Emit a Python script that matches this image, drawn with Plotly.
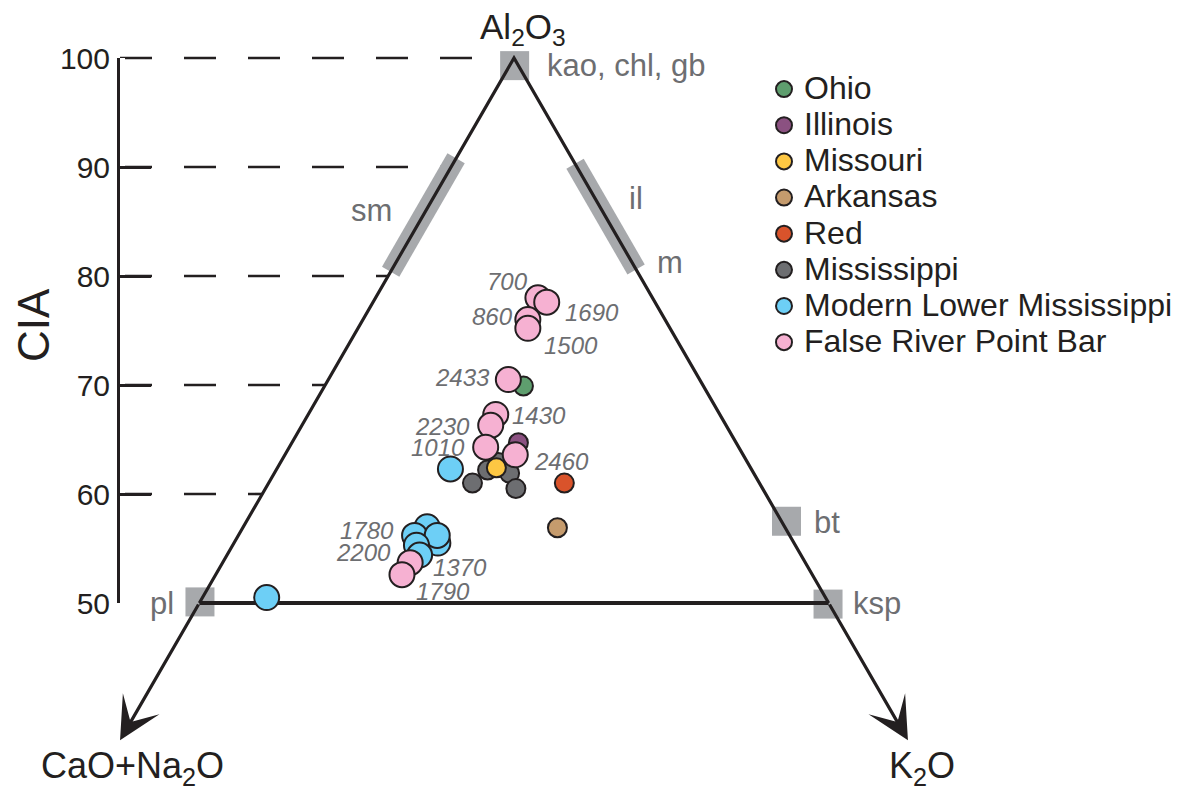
import numpy as np
import plotly.graph_objects as go

W, H = 1185, 794

# ---------------- data (A-CN-K molar %) ----------------
# A = Al2O3 (equals CIA on this diagram), K = K2O, CN = CaO+Na2O = 100 - A - K
ohio_A = [69.9]
ohio_K = [15.8]
illinois_A = [64.7]
illinois_K = [18.0]
missouri_A = [62.4]
missouri_K = [17.4]
arkansas_A = [56.9]
arkansas_K = [25.0]
red_A = [61.0]
red_K = [23.5]
mississippi_A = [61.0, 62.2, 62.9, 61.9, 60.5]
mississippi_K = [16.2, 16.8, 17.3, 18.7, 19.9]
modern_A = [62.3, 57.0, 56.2, 55.5, 56.2, 55.3, 54.4, 50.5]
modern_K = [13.8, 14.6, 14.0, 16.2, 15.8, 14.6, 15.3, 5.1]
falseriver_A = [78.0, 77.6, 76.0, 75.2, 70.5, 67.3, 66.3, 64.3, 63.6, 53.7, 52.6]
falseriver_K = [12.9, 13.8, 13.1, 13.5, 14.3, 14.9, 15.0, 15.6, 18.3, 14.9, 14.8]

# sample age labels and the False River point each one belongs to
age_labels = ["700", "1690", "860", "1500", "2433", "1430", "2230", "1010", "2460",
              "1780", "2200", "1370", "1790"]
age_point = [0, 1, 2, 3, 4, 5, 6, 7, 8, 9, 9, 9, 10]

# reference minerals
mineral_names = ["kao, chl, gb", "pl", "ksp", "bt"]
mineral_A = [99.3, 50.1, 49.9, 57.5]
mineral_K = [0.4, 0.0, 50.0, 42.9]
# clay-mineral bands along the edges (A range)
sm_A = [80.4, 90.8]        # on the A - CN edge (K = 0)
il_A = [80.6, 90.3]        # on the A - K edge (CN = 0)

cia_ticks = [50, 60, 70, 80, 90, 100]
dash_levels = [60, 70, 80, 90, 100]
arrow_A = 37.4             # where the CN and K arrows end

# ---------------- styles ----------------
INK = "#231f20"
GREY_TXT = "#6d6e71"
GREY_BOX = "#a7a9ac"
FONT = "Liberation Sans, Arial, Helvetica, sans-serif"
S3 = np.sqrt(3.0)

# px per unit and apex pixel position
SC = 10.9
APX, APY = 514.0, 58.0


def to_xy(A, K):
    A = np.asarray(A, dtype=float)
    K = np.asarray(K, dtype=float)
    return (2 * K + A - 100.0) / S3, A


def pp(px, py):
    return px / W, 1 - py / H


x_range = [(0 - APX) / SC, (W - APX) / SC]
y_range = [100 - (H - APY) / SC, 100 + APY / SC]
axis_x_px = 120.0
axis_x = (axis_x_px - APX) / SC

fig = go.Figure()

# dashed CIA guide lines
for lv in dash_levels:
    xl, _ = to_xy([lv], [0])
    fig.add_trace(go.Scatter(x=[axis_x, xl[0]], y=[lv, lv], mode="lines",
                             line=dict(color=INK, width=2.6, dash="32px,32px"),
                             showlegend=False, hoverinfo="skip"))

# clay bands
bx, by = to_xy(sm_A, [0, 0])
fig.add_trace(go.Scatter(x=bx, y=by, mode="lines", line=dict(color=GREY_BOX, width=20),
                         showlegend=False, hoverinfo="skip"))
ilK = [100 - a for a in il_A]
bx, by = to_xy(il_A, ilK)
fig.add_trace(go.Scatter(x=bx, y=by, mode="lines", line=dict(color=GREY_BOX, width=20),
                         showlegend=False, hoverinfo="skip"))

# mineral squares
mx, my = to_xy(mineral_A, mineral_K)
fig.add_trace(go.Scatter(x=mx, y=my, mode="markers",
                         marker=dict(symbol="square", size=29, color=GREY_BOX, line=dict(width=0)),
                         showlegend=False, hoverinfo="skip"))

# triangle
tx, ty = to_xy([50, 100, 50], [0, 0, 50])
fig.add_trace(go.Scatter(x=tx, y=ty, mode="lines", line=dict(color=INK, width=3.2),
                         showlegend=False, hoverinfo="skip"))
fig.add_trace(go.Scatter(x=[tx[0], tx[2]], y=[ty[0], ty[2]], mode="lines",
                         line=dict(color=INK, width=4), showlegend=False, hoverinfo="skip"))

# sample series: (name, A, K, colour, size, legend rank) in drawing order
series = [
    ("Mississippi", mississippi_A, mississippi_K, "#6d6e71", 19, 6),
    ("Missouri", missouri_A, missouri_K, "#fdc743", 19, 3),
    ("Illinois", illinois_A, illinois_K, "#8b5181", 19, 2),
    ("Ohio", ohio_A, ohio_K, "#5e9e6e", 19, 1),
    ("Arkansas", arkansas_A, arkansas_K, "#c59b6d", 19, 4),
    ("Red", red_A, red_K, "#d9532b", 19, 5),
    ("Modern Lower Mississippi", modern_A, modern_K, "#6dcff6", 25, 7),
    ("False River Point Bar", falseriver_A, falseriver_K, "#f6b1d2", 25, 8),
]
for name, A, K, col, sz, rk in series:
    x, y = to_xy(A, K)
    fig.add_trace(go.Scatter(x=x, y=y, mode="markers", legendrank=rk,
                             name='<span style="font-size:32px">' + name + '</span>',
                             marker=dict(size=sz, color=col, line=dict(color=INK, width=2)),
                             cliponaxis=False))

# invisible trace for the CIA axis subplot
fig.add_trace(go.Scatter(x=[0], y=[75], xaxis="x2", yaxis="y2", mode="markers",
                         marker=dict(opacity=0), showlegend=False, hoverinfo="skip"))

ann = []
# arrows to CN and K corners
for k_corner in (0, 50):
    cx, cy = to_xy([50], [k_corner])
    k_tip = 0 if k_corner == 0 else 100 - arrow_A
    ex, ey = to_xy([arrow_A], [k_tip])
    ann.append(dict(x=ex[0], y=ey[0], ax=cx[0], ay=cy[0], xref="x", yref="y",
                    axref="x", ayref="y", text="", showarrow=True, arrowhead=3,
                    arrowsize=2.2, arrowwidth=3.2, arrowcolor=INK, standoff=0))

# age labels
fx, fy = to_xy(falseriver_A, falseriver_K)
age_shift = [(-30, 16), (45, -10), (-35, 3), (43, -17), (-46, 2), (43, -1), (-48, -1),
             (-48, 0), (46, -7), (-43, 32), (-47, 10), (50, -5), (41, -17)]
for lab, idx, (dx, dy) in zip(age_labels, age_point, age_shift):
    ann.append(dict(x=fx[idx], y=fy[idx], xref="x", yref="y", text=lab, showarrow=False,
                    xshift=dx, yshift=dy,
                    font=dict(family=FONT, size=24, color=GREY_TXT, style="italic")))

# mineral labels (pixel placed)
mineral_lab = [("kao, chl, gb", 545, 66, "left"), ("pl", 162, 603, "center"),
               ("ksp", 851, 603, "left"), ("bt", 812, 522, "left"),
               ("sm", 371, 210, "center"), ("il", 636, 199, "center"), ("m", 670, 262, "center")]
for t, px, py, xa in mineral_lab:
    X, Y = pp(px, py)
    ann.append(dict(x=X, y=Y, xref="paper", yref="paper", text=t, showarrow=False,
                    xanchor=xa, yanchor="middle",
                    font=dict(family=FONT, size=31, color=GREY_TXT)))

# corner labels
corner_lab = [("Al<sub>2</sub>O<sub>3</sub>", 523, 29, 35), ("CaO+Na<sub>2</sub>O", 132, 768, 36),
              ("K<sub>2</sub>O", 922, 768, 36)]
for t, px, py, fs in corner_lab:
    X, Y = pp(px, py)
    ann.append(dict(x=X, y=Y, xref="paper", yref="paper", text=t, showarrow=False,
                    xanchor="center", yanchor="middle",
                    font=dict(family=FONT, size=fs, color=INK)))

# CIA axis title
X, Y = pp(33, 325)
ann.append(dict(x=X, y=Y, xref="paper", yref="paper", text="CIA", showarrow=False,
                textangle=-90, xanchor="center", yanchor="middle",
                font=dict(family=FONT, size=44, color=INK)))

y2_dom = [1 - (APY + 50 * SC) / H, 1 - APY / H]

fig.update_layout(
    template="none",
    width=W, height=H,
    margin=dict(l=0, r=0, t=0, b=0, pad=0, autoexpand=False),
    paper_bgcolor="white", plot_bgcolor="white",
    font=dict(family=FONT, color=INK),
    xaxis=dict(range=x_range, visible=False, domain=[0, 1], automargin=False, fixedrange=True),
    yaxis=dict(range=y_range, visible=False, domain=[0, 1], automargin=False, fixedrange=True),
    xaxis2=dict(domain=[axis_x_px / W, (axis_x_px + 5) / W], anchor="y2", visible=False,
                range=[0, 1], automargin=False, fixedrange=True),
    yaxis2=dict(domain=y2_dom, anchor="x2", range=[50, 100], tickvals=cia_ticks,
                showline=True, linecolor=INK, linewidth=3, ticks="inside", ticklen=31,
                tickwidth=3, tickcolor=INK, showgrid=False, zeroline=False, automargin=False,
                fixedrange=True,
                tickfont=dict(family=FONT, size=30, color=INK), ticklabelstandoff=1),
    legend=dict(x=764 / W, y=1 - 66 / H, xanchor="left", yanchor="top",
                font=dict(family=FONT, size=25.5, color=INK), bgcolor="rgba(0,0,0,0)",
                borderwidth=0, itemclick=False, itemdoubleclick=False),
    annotations=ann,
    showlegend=True,
)

fig.write_html("out.html", config={"displayModeBar": False},
               post_script="document.body.style.margin='0';")
